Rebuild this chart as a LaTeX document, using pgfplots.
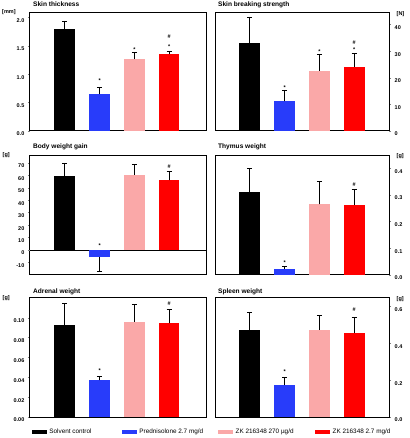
\documentclass[border=0pt]{standalone}
\usepackage{fontspec}
\setmainfont{Liberation Sans}
\usepackage{pgfplots}
\pgfplotsset{compat=1.18}
\definecolor{cblue}{RGB}{40,60,250}
\definecolor{cpink}{RGB}{250,168,168}
\definecolor{cred}{RGB}{255,0,0}
\newcommand\titlefont{\fontsize{6.6}{7}\selectfont\bfseries}
\newcommand\tickfont{\fontsize{5.5}{6}\selectfont\bfseries}
\newcommand\legfont{\fontsize{6.4}{7}\selectfont}
\tikzset{ann/.style={font=\tickfont, inner sep=0pt},
         unit/.style={font=\tickfont, inner sep=0pt}}
\pgfplotsset{
  panel/.style={scale only axis, ybar, bar width=20.7bp, xmin=0, xtick=\empty, ymin=0, clip=false,
    axis line style={line width=1bp}, tick align=outside, major tick length=2bp,
    y tick style={gray, line width=0.4bp},
    yticklabel style={font=\tickfont, yshift=-3bp, inner xsep=3.5bp},
    /pgf/number format/assume math mode=true,
    title style={at={(0,1)}, anchor=west, yshift=-6pt, xshift=3bp, inner sep=0pt, font=\titlefont}},
  leftpanel/.style={panel, width=176.7bp, xmax=5.08, ytick pos=left},
  rightpanel/.style={panel, width=174bp, xmax=5, ytick pos=right, yticklabel pos=right},
  eb/.style={error bars/y dir=plus, error bars/y explicit,
    error bars/error bar style={black, line width=0.7bp},
    error bars/error mark options={rotate=90, black, mark size=2.6bp, line width=0.7bp}},
  bk/.style={fill=black, draw=none, bar shift=0pt, eb},
  bl/.style={fill=cblue, draw=none, bar shift=0pt, eb},
  pk/.style={fill=cpink, draw=none, bar shift=0pt, eb},
  rd/.style={fill=cred, draw=none, bar shift=0pt, eb},
  sq/.style={legend image code/.code={\fill[##1] (0bp,-2bp) rectangle (15bp,2bp);}},
}
\begin{document}
\begin{tikzpicture}
\useasboundingbox (0,0) rectangle (410bp,438bp);

% Skin thickness
\begin{axis}[leftpanel, at={(30bp,307bp)}, anchor=south west, height=118bp, ymax=2.08,
  ytick={0,0.5,1,1.5,2}, yticklabels={0.0,0.5,1.0,1.5,2.0},
  title={Skin thickness}, title style={yshift=8.5bp}]
\addplot[bk] coordinates {(1,1.80) +- (0,0.14)};
\addplot[bl] coordinates {(2,0.647) +- (0,0.124)};
\addplot[pk] coordinates {(3,1.265) +- (0,0.117)};
\addplot[rd] coordinates {(4,1.35) +- (0,0.06)};
\node[ann] at (axis cs:2,0.88) {*};
\node[ann] at (axis cs:3,1.43) {*};
\node[ann] at (axis cs:4,1.49) {*};
\node[ann] at (axis cs:4,1.66) {\#};
\node[unit, anchor=west, xshift=-28bp, yshift=1bp] at (rel axis cs:0,1) {[mm]};
\end{axis}

% Skin breaking strength
\begin{axis}[rightpanel, at={(215bp,307bp)}, anchor=south west, height=118bp, ymax=44.4,
  ytick={0,10,20,30,40}, yticklabels={0,10,20,30,40},
  title={Skin breaking strength}, title style={yshift=8.5bp}]
\addplot[bk] coordinates {(1,33.1) +- (0,9.8)};
\addplot[bl] coordinates {(2,11.1) +- (0,4.1)};
\addplot[pk] coordinates {(3,22.6) +- (0,6.1)};
\addplot[rd] coordinates {(4,24.2) +- (0,5.1)};
\node[ann] at (axis cs:2,16.5) {*};
\node[ann] at (axis cs:3,29.7) {*};
\node[ann] at (axis cs:4,30.8) {*};
\node[ann] at (axis cs:4,33.1) {\#};
\node[unit, anchor=west, xshift=7.5bp, yshift=-1bp] at (rel axis cs:1,1) {[N]};
\end{axis}

% Body weight gain
\begin{axis}[leftpanel, at={(30bp,163bp)}, anchor=south west, height=119bp, ymin=-20, ymax=75.5,
  ytick={-10,0,10,20,30,40,50,60,70}, yticklabels={-10,0,10,20,30,40,50,60,70},
  extra y ticks={0}, extra y tick labels={},
  extra y tick style={grid=major, major grid style={black, line width=0.8bp}},
  title={Body weight gain}, title style={yshift=9.5bp}]
\addplot[bk] coordinates {(1,59.7) +- (0,10.2)};
\addplot[bl, error bars/y dir=minus] coordinates {(2,-5.9) +- (0,11.1)};
\addplot[pk] coordinates {(3,60.3) +- (0,8.7)};
\addplot[rd] coordinates {(4,56) +- (0,7)};
\node[ann] at (axis cs:2,3.7) {*};
\node[ann] at (axis cs:4,67.2) {\#};
\node[unit, anchor=west, xshift=-27.5bp, yshift=1bp] at (rel axis cs:0,1) {[g]};
\end{axis}

% Thymus weight
\begin{axis}[rightpanel, at={(215bp,163bp)}, anchor=south west, height=119bp, ymax=0.446,
  ytick={0,0.1,0.2,0.3,0.4}, yticklabels={0.0,0.1,0.2,0.3,0.4},
  title={Thymus weight}, title style={yshift=9.5bp}]
\addplot[bk] coordinates {(1,0.312) +- (0,0.088)};
\addplot[bl] coordinates {(2,0.022) +- (0,0.009)};
\addplot[pk] coordinates {(3,0.265) +- (0,0.085)};
\addplot[rd] coordinates {(4,0.263) +- (0,0.057)};
\node[ann] at (axis cs:2,0.046) {*};
\node[ann] at (axis cs:4,0.34) {\#};
\node[unit, anchor=west, xshift=7.5bp, yshift=0bp] at (rel axis cs:1,1) {[g]};
\end{axis}

% Adrenal weight
\begin{axis}[leftpanel, at={(30bp,21bp)}, anchor=south west, height=119bp, ymax=0.120,
  ytick={0,0.02,0.04,0.06,0.08,0.10}, yticklabels={0.00,0.02,0.04,0.06,0.08,0.10},
  title={Adrenal weight}, title style={yshift=6.5bp},
  legend columns=4, legend cell align=left,
  legend style={at={(axis description cs:0.0096,-0.126)}, anchor=west, draw=none, fill=none,
    inner sep=0pt, column sep=0pt, font=\legfont, nodes={inner xsep=2.5bp, inner ysep=0pt}}]
\addplot[bk, sq] coordinates {(1,0.0924) +- (0,0.0225)};
\addlegendentry{\makebox[70bp][l]{Solvent control}}
\addplot[bl, sq] coordinates {(2,0.037) +- (0,0.0043)};
\addlegendentry{\makebox[76.3bp][l]{Prednisolone 2.7 mg/d}}
\addplot[pk, sq] coordinates {(3,0.0958) +- (0,0.0178)};
\addlegendentry{\makebox[77bp][l]{ZK 216348 270 µg/d}}
\addplot[rd, sq] coordinates {(4,0.0944) +- (0,0.0138)};
\addlegendentry{ZK 216348 2.7 mg/d}
\node[ann] at (axis cs:2,0.0464) {*};
\node[ann] at (axis cs:4,0.114) {\#};
\node[unit, anchor=west, xshift=-27.5bp, yshift=0bp] at (rel axis cs:0,1) {[g]};
\end{axis}

% Spleen weight
\begin{axis}[rightpanel, at={(215bp,21bp)}, anchor=south west, height=119bp, ymax=0.647,
  ytick={0,0.2,0.4,0.6}, yticklabels={0.0,0.2,0.4,0.6},
  title={Spleen weight}, title style={yshift=6.5bp}]
\addplot[bk] coordinates {(1,0.473) +- (0,0.096)};
\addplot[bl] coordinates {(2,0.173) +- (0,0.042)};
\addplot[pk] coordinates {(3,0.475) +- (0,0.075)};
\addplot[rd] coordinates {(4,0.456) +- (0,0.084)};
\node[ann] at (axis cs:2,0.245) {*};
\node[ann] at (axis cs:4,0.584) {\#};
\node[unit, anchor=west, xshift=7.5bp, yshift=-1bp] at (rel axis cs:1,1) {[g]};
\end{axis}
\end{tikzpicture}
\end{document}
